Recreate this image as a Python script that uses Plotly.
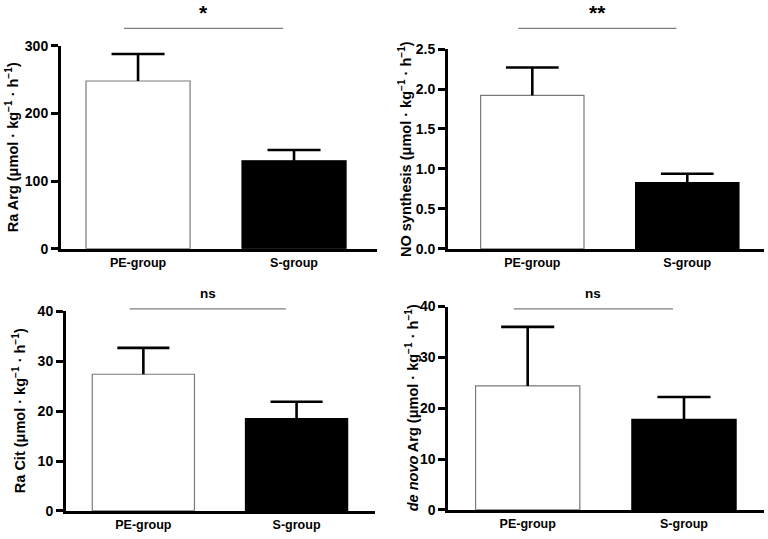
import plotly.graph_objects as go

groups = ["PE-group", "S-group"]
ra_arg = [248, 130]
ra_arg_err = [288, 146]
no_syn = [1.92, 0.83]
no_syn_err = [2.27, 0.94]
ra_cit = [27.4, 18.5]
ra_cit_err = [32.7, 21.9]
denovo = [24.4, 17.8]
denovo_err = [36.0, 22.2]
sig_labels = ["*", "**", "ns", "ns"]
y_titles = [
    "Ra Arg (μmol · kg<sup>−1</sup> · h<sup>−1</sup>)",
    "NO synthesis (μmol · kg<sup>−1</sup> · h<sup>−1</sup>)",
    "Ra Cit (μmol · kg<sup>−1</sup> · h<sup>−1</sup>)",
    "<i>de novo</i> Arg (μmol · kg<sup>−1</sup> · h<sup>−1</sup>)",
]
y_ticks = [[0, 100, 200, 300], [0, 0.5, 1.0, 1.5, 2.0, 2.5], [0, 10, 20, 30, 40], [0, 10, 20, 30, 40]]
y_ticktext = [None, ["0.0", "0.5", "1.0", "1.5", "2.0", "2.5"], None, None]
y_max = [300, 2.5, 40, 40]

W, H = 768, 539
# pixel layout per panel: (x_left, x_right, y_top, y_bottom, xrange, title_x)
panels = [
    (61, 377, 39, 248, [-0.494, 1.532], 12),
    (448, 764, 42.3, 248.3, [-0.544, 1.495], 405),
    (66, 375, 312.7, 518.3, [-0.505, 1.512], 19),
    (448.3, 764, 307.7, 517.3, [-0.508, 1.512], 412),
]
sig_y = [21, 21, 310, 310]
BAR_W = 0.667
CAP = 0.17

means = [ra_arg, no_syn, ra_cit, denovo]
uppers = [ra_arg_err, no_syn_err, ra_cit_err, denovo_err]

fig = go.Figure()
FONT = "Liberation Sans, Arial, sans-serif"
annotations = []
shapes = []
for i in range(4):
    sfx = "" if i == 0 else str(i + 1)
    xl, xr, yt, yb, xrng, tx = panels[i]
    xs = [0, 1]
    fig.add_trace(go.Bar(
        x=xs, y=means[i], width=BAR_W,
        marker=dict(color=["white", "black"], line=dict(color=["#7a7a7a", "black"], width=1.2)),
        xaxis="x" + sfx, yaxis="y" + sfx, showlegend=False, hoverinfo="skip",
    ))
    # upper-only error bars (stem + top cap)
    ex, ey = [], []
    for x, m, u in zip(xs, means[i], uppers[i]):
        ex += [x, x, None, x - CAP, x + CAP, None]
        ey += [m, u, None, u, u, None]
    fig.add_trace(go.Scatter(
        x=ex, y=ey, mode="lines", line=dict(color="black", width=2.6),
        xaxis="x" + sfx, yaxis="y" + sfx, showlegend=False, hoverinfo="skip",
        cliponaxis=False,
    ))
    fig.layout["xaxis" + sfx] = dict(
        domain=[xl / W, xr / W], range=xrng, anchor="y" + sfx,
        tickvals=[0, 1], ticktext=groups, ticks="", showgrid=False, zeroline=False,
        showline=True, linecolor="black", linewidth=3,
        tickfont=dict(family=FONT, size=12.5, color="black", weight="bold"),
    )
    ya = dict(
        domain=[1 - yb / H, 1 - yt / H], range=[0, y_max[i]], anchor="x" + sfx,
        tickvals=y_ticks[i], ticks="outside", ticklen=7, tickwidth=3, tickcolor="black",
        showgrid=False, zeroline=False, showline=True, linecolor="black", linewidth=3,
        tickfont=dict(family=FONT, size=14, color="black", weight="bold"),
    )
    if y_ticktext[i] is not None:
        ya["ticktext"] = y_ticktext[i]
    fig.layout["yaxis" + sfx] = ya
    annotations.append(dict(
        text=y_titles[i], textangle=-90, x=tx / W, y=1 - (yt + yb) / 2 / H,
        xref="paper", yref="paper", showarrow=False, xanchor="center", yanchor="middle",
        font=dict(family=FONT, size=14.5, color="black", weight="bold"),
    ))
    # significance bar
    shapes.append(dict(type="line", xref="x" + sfx, yref="paper",
                       x0=-0.09, x1=0.93, y0=1 - sig_y[i] / H, y1=1 - sig_y[i] / H,
                       line=dict(color="#7f7f7f", width=1.3)))
    is_star = "*" in sig_labels[i]
    annotations.append(dict(
        text=sig_labels[i], x=0.42, y=1 - sig_y[i] / H + (2 if is_star else 6) / H,
        xref="x" + sfx, yref="paper", showarrow=False, yanchor="bottom",
        font=dict(family=FONT, size=21 if is_star else 13.5, color="black", weight="bold"),
    ))

fig.update_layout(
    width=W, height=H, margin=dict(l=0, r=0, t=0, b=0),
    paper_bgcolor="white", plot_bgcolor="white",
    annotations=annotations, shapes=shapes, bargap=0,
)
fig.write_html(
    "out.html",
    config={"displayModeBar": False, "staticPlot": True},
    post_script=(
        "document.body.style.margin='0px';"
        "document.body.style.overflow='hidden';"
        "document.documentElement.style.overflow='hidden';"
    ),
)
